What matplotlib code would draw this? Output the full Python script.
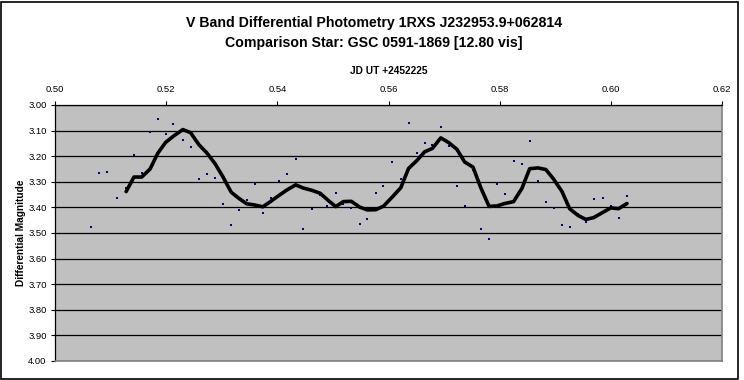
import numpy as np
import pandas as pd
import matplotlib
matplotlib.use("Agg")
import matplotlib.pyplot as plt
from matplotlib.patches import Rectangle

plt.rcParams["font.family"] = ["Liberation Sans", "DejaVu Sans"]

# Tidspunkt (JD - 2452225) og differensiell magnitude lest av figuren
jd = [0.5065, 0.5079, 0.5093, 0.5111, 0.5128, 0.5142, 0.5156, 0.5171, 0.5185, 0.5199,
      0.5213, 0.5230, 0.5244, 0.5259, 0.5273, 0.5288, 0.5302, 0.5317, 0.5331, 0.5345,
      0.5359, 0.5374, 0.5388, 0.5403, 0.5417, 0.5433, 0.5447, 0.5462, 0.5477, 0.5490,
      0.5505, 0.5519, 0.5533, 0.5548, 0.5562, 0.5577, 0.5591, 0.5607, 0.5622, 0.5636,
      0.5651, 0.5665, 0.5679, 0.5694, 0.5708, 0.5723, 0.5737, 0.5752, 0.5766, 0.5781,
      0.5795, 0.5809, 0.5825, 0.5840, 0.5854, 0.5869, 0.5883, 0.5897, 0.5912, 0.5926,
      0.5941, 0.5955, 0.5969, 0.5986, 0.6000, 0.6014, 0.6029]
mag = [3.478, 3.264, 3.261, 3.365, 3.323, 3.194, 3.264, 3.105, 3.055, 3.112,
       3.073, 3.135, 3.166, 3.291, 3.268, 3.287, 3.388, 3.470, 3.412, 3.373,
       3.310, 3.423, 3.365, 3.295, 3.268, 3.209, 3.486, 3.408, 3.353, 3.393,
       3.345, 3.387, 3.403, 3.466, 3.447, 3.342, 3.318, 3.221, 3.291, 3.069,
       3.186, 3.147, 3.155, 3.085, 3.159, 3.318, 3.396, 3.255, 3.486, 3.525,
       3.310, 3.349, 3.217, 3.229, 3.139, 3.295, 3.380, 3.404, 3.470, 3.478,
       3.425, 3.458, 3.369, 3.365, 3.393, 3.440, 3.357]

x_ticks = [0.50, 0.52, 0.54, 0.56, 0.58, 0.60, 0.62]
y_ticks = [3.00, 3.10, 3.20, 3.30, 3.40, 3.50, 3.60, 3.70, 3.80, 3.90, 4.00]

# glidende gjennomsnitt over 5 punkter (trendlinjen)
df = pd.DataFrame({"jd": jd, "mag": mag})
df["snitt"] = df["mag"].rolling(5).mean()

fig = plt.figure(figsize=(7.44, 3.80), dpi=100)
ax = fig.add_axes([55 / 744, 1 - 361 / 380, 667 / 744, 256 / 380])
ax.set_facecolor("#c0c0c0")

ax.plot(df["jd"], df["mag"], "s", color="#000080", markersize=2.0, markeredgewidth=0, zorder=3)
ax.plot(df["jd"], df["snitt"], color="black", linewidth=2.6, solid_joinstyle="round",
        solid_capstyle="round", zorder=4)

ax.set_xlim(0.50, 0.62)
ax.set_ylim(4.00, 3.00)
ax.set_xticks(x_ticks)
ax.set_xticklabels([f"{v:.2f}" for v in x_ticks])
ax.set_yticks(y_ticks)
ax.set_yticklabels([f"{v:.2f}" for v in y_ticks])
ax.xaxis.tick_top()
ax.xaxis.set_label_position("top")
ax.tick_params(axis="x", direction="out", length=3, width=0.8, labelsize=6.8, pad=5)
ax.tick_params(axis="y", direction="out", length=3, width=0.8, labelsize=6.8, pad=3)

ax.grid(axis="y", color="black", linewidth=0.9)
ax.set_axisbelow(True)

for side in ["top", "left"]:
    ax.spines[side].set_color("black")
    ax.spines[side].set_linewidth(0.9)
for side in ["bottom", "right"]:
    ax.spines[side].set_color("#808080")
    ax.spines[side].set_linewidth(1.2)

ax.set_xlabel("JD UT +2452225", fontsize=7.3, fontweight="bold", labelpad=8)
fig.text(21 / 744, 1 - 233 / 380, "Differential Magnitude", rotation=90, fontsize=7.3,
         fontweight="bold", ha="center", va="center")

fig.text(374 / 744, 1 - 23 / 380, "V Band Differential Photometry 1RXS J232953.9+062814",
         fontsize=10.2, fontweight="bold", ha="center", va="center")
fig.text(374 / 744, 1 - 43 / 380, "Comparison Star: GSC 0591-1869 [12.80 vis]",
         fontsize=10.2, fontweight="bold", ha="center", va="center")

# ramme rundt hele diagrammet
fig.patches.append(Rectangle((1 / 744, 1.5 / 380), 737 / 744, 376.5 / 380,
                             transform=fig.transFigure, fill=False,
                             edgecolor="black", linewidth=1.2))

fig.savefig("out.png", dpi=100)
